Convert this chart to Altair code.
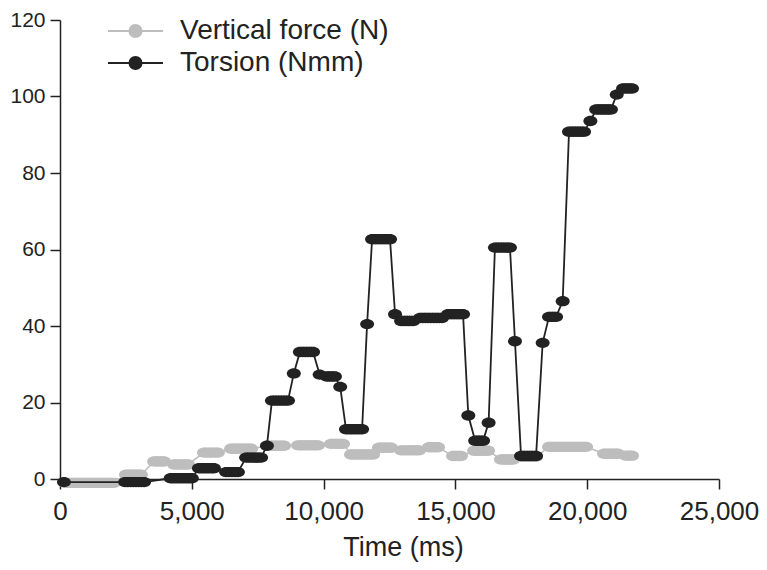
import altair as alt
import numpy as np
import pandas as pd

# Torsion (Nmm): plateaus -> (start ms, end ms, value)
tor_start = [150, 2470, 4200, 5270, 6300, 7060, 7850, 8040, 8870, 9100, 9850, 10120,
             10630, 10850, 11650, 11840, 12710, 12940, 13660, 14720, 15490, 15750,
             16260, 16500, 17260, 17490, 18310, 18550, 19070, 19310, 20120, 20340,
             21120, 21360]
tor_end = [150, 3190, 5000, 5840, 6750, 7630, 7850, 8650, 8870, 9600, 9850, 10430,
           10630, 11460, 11650, 12520, 12710, 13400, 14490, 15290, 15490, 16050,
           16260, 17070, 17260, 18060, 18310, 18820, 19070, 19880, 20120, 20900,
           21120, 21700]
tor_value = [-0.8, -0.8, 0.2, 2.8, 1.8, 5.6, 8.7, 20.5, 27.6, 33.2, 27.3, 26.8,
             24.1, 13.0, 40.5, 62.7, 43.1, 41.3, 42.1, 43.1, 16.6, 10.0,
             14.7, 60.5, 36.0, 6.0, 35.6, 42.4, 46.5, 90.8, 93.6, 96.6,
             100.5, 102.1]

# Vertical force (N): plateaus -> (start ms, end ms, value)
vf_start = [200, 2500, 3570, 4330, 5460, 6490, 7890, 9030, 10280, 11040, 12100, 12940,
            14000, 14910, 15710, 16730, 17490, 18550, 20640, 21470]
vf_end = [2050, 3070, 3950, 4860, 5990, 7250, 8500, 9790, 10740, 11880, 12560, 13620,
          14340, 15210, 16240, 17190, 18060, 19960, 21170, 21700]
vf_value = [-1.0, 1.1, 4.6, 3.8, 6.9, 7.9, 8.7, 8.8, 9.2, 6.4, 8.2, 7.5,
            8.3, 6.0, 7.4, 5.1, 5.8, 8.4, 6.6, 6.1]

SAMPLE_MS = 100  # recording interval of the samples that make up each plateau

series_names = ["Vertical force (N)", "Torsion (Nmm)"]
series_colors = ["#bdbdbd", "#222222"]

x_ticks = [0, 5000, 10000, 15000, 20000, 25000]
y_ticks = [0, 20, 40, 60, 80, 100, 120]


def expand(name, starts, ends, values):
    rows = []
    for s, e, v in zip(starts, ends, values):
        n = max(1, int(round((e - s) / SAMPLE_MS)) + 1)
        for t in np.linspace(s, e, n):
            rows.append({"time": float(t), "value": v, "series": name})
    return rows


df = pd.DataFrame(
    expand(series_names[0], vf_start, vf_end, vf_value)
    + expand(series_names[1], tor_start, tor_end, tor_value)
)

FONT = "Liberation Sans"
ellipse = "M-1,0A1,0.74,0,1,1,1,0A1,0.74,0,1,1,-1,0Z"
legend_symbol = "M-1,0L1,0M-0.22,0A0.22,0.22,0,1,1,0.22,0A0.22,0.22,0,1,1,-0.22,0Z"

color = alt.Color(
    "series:N",
    scale=alt.Scale(domain=series_names, range=series_colors),
    legend=alt.Legend(
        title=None,
        orient="none",
        legendX=47,
        legendY=-5,
        padding=0,
        rowPadding=0,
        clipHeight=32,
        symbolType=legend_symbol,
        symbolSize=3025,
        symbolStrokeWidth=2,
        labelOffset=16,
        labelFontSize=28,
        labelFont=FONT,
        labelColor="#222222",
        labelLimit=500,
    ),
)

x = alt.X(
    "time:Q",
    title="Time (ms)",
    scale=alt.Scale(domain=[0, 25000], nice=False),
    axis=alt.Axis(
        values=x_ticks,
        format=",d",
        labelPadding=9,
        labelFlush=False,
        labelFontSize=26,
        titleFontSize=27,
        titleX=343,
        titleY=55,
        titleAlign="center",
        titleBaseline="top",
    ),
)
y = alt.Y(
    "value:Q",
    title=None,
    scale=alt.Scale(domain=[0, 120], nice=False),
    axis=alt.Axis(values=y_ticks, format="d", labelPadding=5, labelFlush=False, labelFontSize=21),
)


def layer_for(name, width):
    sub = alt.Chart(df).transform_filter(alt.datum.series == name)
    line = sub.mark_line(strokeWidth=width, clip=False).encode(
        x=x, y=y, color=color, order="time:Q"
    )
    pts = sub.mark_point(filled=True, shape=ellipse, size=196, opacity=1, clip=False).encode(
        x=x, y=y, color=color
    )
    return [line, pts]


chart = (
    alt.layer(*(layer_for(series_names[0], 1.5) + layer_for(series_names[1], 1.8)))
    .properties(
        width=659,
        height=459,
        autosize=alt.AutoSizeParams(type="none"),
        padding={"left": 52, "top": 12, "right": 40, "bottom": 83},
    )
    .configure_view(stroke=None)
    .configure_axis(
        grid=False,
        domainColor="#222222",
        domainWidth=1.5,
        tickColor="#222222",
        tickWidth=1.5,
        tickSize=10,
        labelFont=FONT,
        labelColor="#222222",
        titleFont=FONT,
        titleFontWeight="normal",
        titleColor="#222222",
    )
)

chart.save("out.html", embed_options={"renderer": "svg", "actions": False})
